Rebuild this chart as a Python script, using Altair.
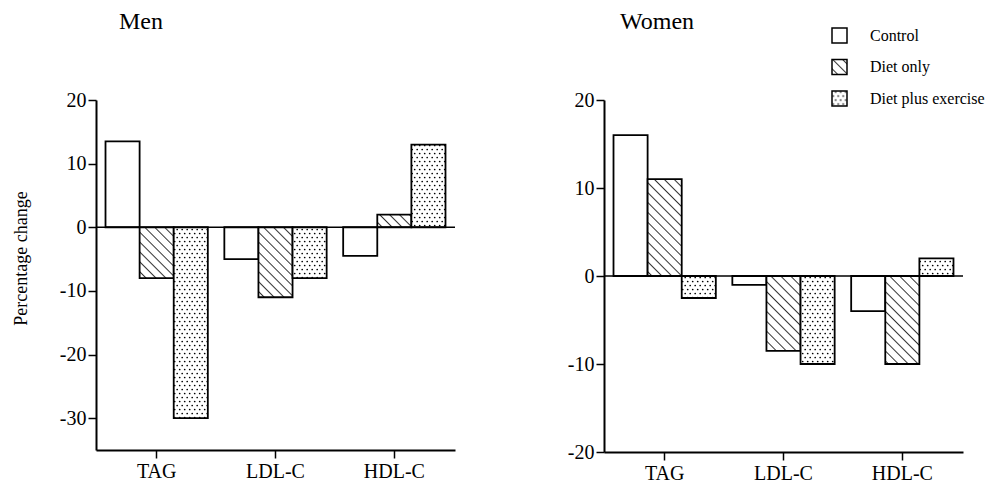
import altair as alt
import pandas as pd

# ---------------- data ----------------
categories = ["TAG", "LDL-C", "HDL-C"]
groups = ["Control", "Diet only", "Diet plus exercise"]

men_control = [13.5, -5.0, -4.5]
men_diet = [-8.0, -11.0, 2.0]
men_diet_ex = [-30.0, -8.0, 13.0]

women_control = [16.0, -1.0, -4.0]
women_diet = [11.0, -8.5, -10.0]
women_diet_ex = [-2.5, -10.0, 2.0]

men_ticks = [-30, -20, -10, 0, 10, 20]
women_ticks = [-20, -10, 0, 10, 20]
men_domain = [-35, 20]
women_domain = [-20, 20]

FONT = "Liberation Serif"
fills = ["white", "url(#hatch) #aaaaaa", "url(#dots) #dddddd"]

# SVG pattern definitions injected into the page so the bar fills can use them
DEFS = (
    '<svg width="0" height="0" style="position:absolute;left:0;top:0">'
    "<defs>"
    '<pattern id="hatch" width="7" height="7" patternUnits="userSpaceOnUse" '
    'patternTransform="rotate(-45)">'
    '<rect width="7" height="7" fill="white"/>'
    '<line x1="0" y1="0" x2="0" y2="7" stroke="black" stroke-width="1.6"/>'
    "</pattern>"
    '<pattern id="dots" width="5" height="8" patternUnits="userSpaceOnUse">'
    '<rect width="5" height="8" fill="white"/>'
    '<circle cx="1.2" cy="1.5" r="0.85" fill="black"/>'
    '<circle cx="3.7" cy="5.5" r="0.85" fill="black"/>'
    "</pattern>"
    "</defs></svg>"
)

try:
    import altair.utils.html as _ah

    for _name, _tpl in list(_ah.TEMPLATES.items()):
        _orig = _tpl.render

        def _render(*a, _orig=_orig, **k):
            s = _orig(*a, **k)
            if "<body>" in s:
                return s.replace("<body>", "<body>" + DEFS, 1)
            return DEFS + s

        _tpl.render = _render
except Exception:
    pass


def long_table(ctrl, diet, dietex):
    rows = []
    for g, vals in zip(groups, [ctrl, diet, dietex]):
        for c, v in zip(categories, vals):
            rows.append({"measure": c, "group": g, "value": v})
    return pd.DataFrame(rows)


men_df = long_table(men_control, men_diet, men_diet_ex)
women_df = long_table(women_control, women_diet, women_diet_ex)

legend = alt.Legend(
    title=None,
    orient="none",
    legendX=735,
    legendY=-73,
    symbolType="square",
    symbolSize=225,
    symbolStrokeColor="black",
    symbolStrokeWidth=1.5,
    symbolOpacity=1,
    labelFont=FONT,
    labelFontSize=16,
    labelColor="black",
    labelOffset=22,
    rowPadding=10.5,
    padding=0,
)


def panel(df, title, domain, ticks, dx, ytitle, h):
    yaxis_kw = dict(
        values=ticks,
        labelExpr="'' + datum.value",
        tickSize=8,
        tickWidth=1.5,
        tickColor="black",
        domainColor="black",
        domainWidth=2,
        labelFont=FONT,
        labelFontSize=20,
        labelColor="black",
        labelPadding=2,
        grid=False,
        minExtent=40,
        maxExtent=40,
    )
    if ytitle:
        yaxis_kw.update(
            title=ytitle,
            titleFont=FONT,
            titleFontSize=18,
            titleFontWeight="normal",
            titleColor="black",
            titleX=-66,
            titleY=158,
            titleAngle=270,
            titleAlign="center",
            titleBaseline="bottom",
        )
    else:
        yaxis_kw.update(title=None)

    bars = alt.Chart(df).mark_bar(stroke="black", strokeWidth=1.8).encode(
        x=alt.X(
            "measure:N",
            sort=categories,
            scale=alt.Scale(paddingInner=0.139, paddingOuter=0.08),
            axis=alt.Axis(
                title=None,
                labelAngle=0,
                tickSize=8,
                tickWidth=1.5,
                tickColor="black",
                domainColor="black",
                domainWidth=2,
                labelFont=FONT,
                labelFontSize=20,
                labelColor="black",
                labelPadding=3,
                grid=False,
            ),
        ),
        xOffset=alt.XOffset(
            "group:N", sort=groups, scale=alt.Scale(paddingInner=0, paddingOuter=0)
        ),
        y=alt.Y(
            "value:Q",
            scale=alt.Scale(domain=domain, nice=False),
            axis=alt.Axis(**yaxis_kw),
        ),
        color=alt.Color(
            "group:N",
            sort=groups,
            scale=alt.Scale(domain=groups, range=fills),
            legend=legend,
        ),
    )
    zero = alt.Chart(pd.DataFrame({"z": [0]})).mark_rule(
        color="black", strokeWidth=1.5
    ).encode(y=alt.datum(0))
    return alt.layer(bars, zero).properties(
        width=359,
        height=h,
        view=alt.ViewBackground(stroke="white", strokeWidth=0, strokeOpacity=0),
        title=alt.TitleParams(
            title,
            anchor="start",
            frame="group",
            dx=dx,
            offset=37,
            baseline="alphabetic",
            font=FONT,
            fontSize=24,
            fontWeight="normal",
            color="black",
        ),
    )


left = panel(men_df, "Men", men_domain, men_ticks, 23, "Percentage change", 350)
right = panel(women_df, "Women", women_domain, women_ticks, 16, None, 352)

chart = (
    alt.hconcat(left, right, spacing=108)
    .resolve_scale(color="shared")
    .properties(padding={"left": 4, "top": 2, "right": 0, "bottom": 0})
    .configure_view(stroke="white", strokeWidth=0, strokeOpacity=0)
    .configure(font=FONT)
)

chart.save("out.html", embed_options={"renderer": "svg", "actions": False})
